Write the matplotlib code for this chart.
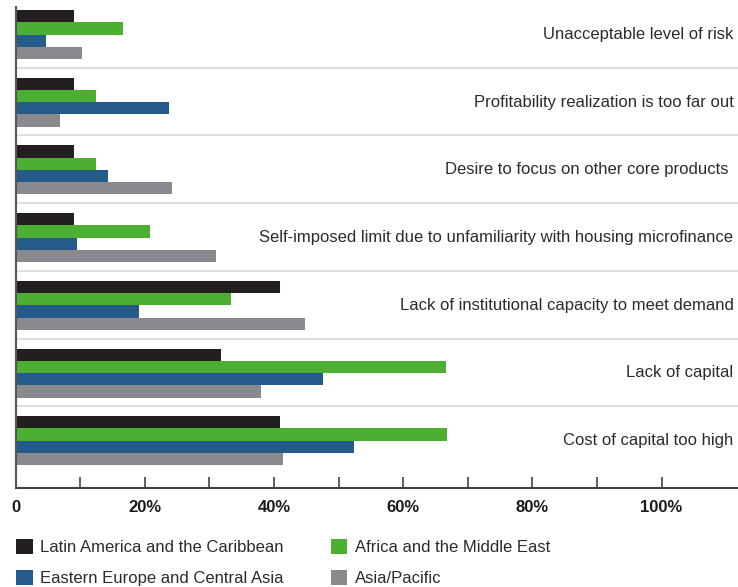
import numpy as np
import matplotlib.pyplot as plt
from matplotlib.patches import Patch

plt.rcParams['font.family'] = ['Liberation Sans', 'DejaVu Sans']

# reasons, top to bottom
reasons = ["Unacceptable level of risk",
           "Profitability realization is too far out",
           "Desire to focus on other core products ",
           "Self-imposed limit due to unfamiliarity with housing microfinance",
           "Lack of institutional capacity to meet demand",
           "Lack of capital",
           "Cost of capital too high"]

regions = ["Latin America and the Caribbean", "Africa and the Middle East",
           "Eastern Europe and Central Asia", "Asia/Pacific"]

latam = [9.0, 9.0, 9.0, 9.0, 40.9, 31.8, 40.9]
africa = [16.6, 12.4, 12.4, 20.8, 33.3, 66.7, 66.8]
eeca = [4.7, 23.7, 14.3, 9.5, 19.1, 47.6, 52.4]
asia = [10.3, 6.9, 24.2, 31.0, 44.8, 38.0, 41.4]

colors = ['#231f20', '#4caf32', '#255b8a', '#8a8a8e']
series = [latam, africa, eeca, asia]

fig = plt.figure(figsize=(7.38, 5.87), dpi=100)
W, H = 738, 587
ax = fig.add_axes([15.5 / W, 1 - 488 / H, 1 - 15.5 / W, (488 - 7) / H])

# everything in pixel-like units on y (top down)
group = 67.7
bar_h = 12.25
first = 3.0
n = len(reasons)
for j, (vals, c) in enumerate(zip(series, colors)):
    ys = first + np.arange(n) * group + j * bar_h
    ax.barh(ys, vals, height=bar_h, align='edge', color=c, linewidth=0)

for i in range(1, n):
    ax.axhline(first + i * group - 10, color='#dcdcdc', lw=1.5, zorder=0)

xmax = (W - 15.5) / 6.46
for i, r in enumerate(reasons):
    ax.text(xmax - 0.7, first + i * group + 2 * bar_h, r, ha='right', va='center',
            fontsize=12, color='#2b2b2b')

ax.set_xlim(0, xmax)
ax.set_ylim(481, 0)
ax.set_yticks([])
ax.set_xticks(np.arange(0, 101, 10))
ax.set_xticklabels(['0' if v == 0 else (f'{v}%' if v % 20 == 0 else '') for v in range(0, 101, 10)],
                   fontsize=12, fontweight='bold', color='#1a1a1a')
ax.tick_params(axis='x', direction='in', length=8, width=1.2, color='#444444', pad=9)
for s in ['top', 'right']:
    ax.spines[s].set_visible(False)
ax.spines['left'].set_color('#555555')
ax.spines['left'].set_linewidth(1.5)
ax.spines['bottom'].set_color('#444444')
ax.spines['bottom'].set_linewidth(1.5)

# legend fills column-wise, so order handles to match the two rows
order = [0, 2, 1, 3]
handles = [Patch(facecolor=colors[k], edgecolor='none') for k in order]
labels = [regions[k] for k in order]
fig.legend(handles, labels, ncol=2, loc='upper left', bbox_to_anchor=(1 / W, 1 - 524 / H),
           frameon=False, fontsize=12, handlelength=1.0, handleheight=1.0,
           handletextpad=0.45, columnspacing=2.82, labelspacing=0.88, labelcolor='#2b2b2b')

fig.savefig('out.png', dpi=100)
